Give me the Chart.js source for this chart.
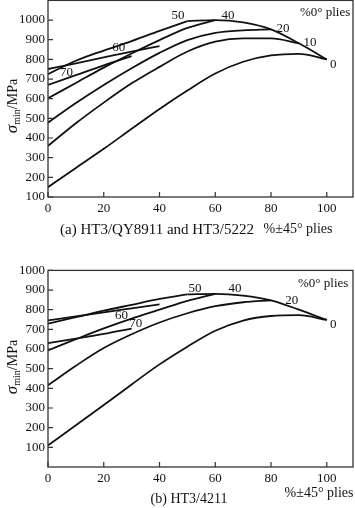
<!DOCTYPE html>
<html>
<head>
<meta charset="utf-8">
<script src="https://cdn.jsdelivr.net/npm/chart.js@4.4.0/dist/chart.umd.min.js"></script>
<style>
  html, body { margin: 0; padding: 0; background: #fff; }
  #wrapA { position: absolute; left: 0; top: 0; width: 355px; height: 245px; }
  #wrapB { position: absolute; left: 0; top: 250px; width: 355px; height: 258px; }
</style>
</head>
<body>
<div id="wrapA"><canvas id="chartA" width="355" height="245"></canvas></div>
<div id="wrapB"><canvas id="chartB" width="355" height="258"></canvas></div>
<script>
// ---- shared axis values ----
const xStep = [0, 10, 20, 30, 40, 50, 60, 70, 80, 90, 100];
const xTicks = [0, 20, 40, 60, 80, 100];
const yTicks = [100, 200, 300, 400, 500, 600, 700, 800, 900, 1000];

// ---- (a) HT3/QY8911 and HT3/5222 : sigma_min vs % ±45 plies, per % 0° plies ----
const a0  = [150, 248, 345, 447, 548, 642, 728, 788, 820, 828, 800];
const a10 = [360, 475, 580, 678, 762, 840, 890, 907, 907, 882];
const a20 = [478, 578, 670, 755, 833, 898, 935, 948, 953];
const a40 = [602, 680, 758, 830, 898, 960, 1000];
const a50 = [725, 793, 845, 893, 945, 995];
const a60 = [751, 780, 810, 840, 868];
const a70 = [670, 720, 770, 817];
const aEdgeX = [50, 60, 70, 80, 90, 100];
const aEdge  = [995, 1000, 988, 953, 882, 800];
const aLabels = ['50', '40', '20', '10', '0', '60', '70'];
const aLabelX = [46.6, 64.6, 84.3, 94, 102.3, 25.4, 6.6];
const aLabelY = [1025, 1025, 959, 888, 776, 858, 732];

// ---- (b) HT3/4211 ----
const b0  = [110, 212, 315, 420, 522, 612, 693, 745, 768, 772, 748];
const b20 = [416, 515, 605, 675, 735, 782, 818, 838, 848];
const b40 = [593, 650, 705, 755, 800, 845, 881];
const b50 = [729, 762, 795, 825, 855, 878];
const b60 = [746, 766, 787, 807, 827];
const b70 = [630, 653, 677, 704];
const bEdgeX = [50, 60, 70, 80, 90, 100];
const bEdge  = [878, 881, 872, 848, 800, 748];
const bLabels = ['50', '40', '20', '0', '60', '70'];
const bLabelX = [52.7, 67.1, 87.4, 102.3, 26.4, 31.5];
const bLabelY = [909, 909, 848, 726, 772, 729];

const SERIF = '"Liberation Serif", "DejaVu Serif", serif';
const INK = '#111';

function pts(xs, ys) { return ys.map((y, i) => ({ x: xs[i], y: y })); }
function curve(ys, xs) {
  return {
    data: pts(xs || xStep, ys),
    showLine: true, pointRadius: 0, borderColor: INK, borderWidth: 1.8,
    cubicInterpolationMode: 'monotone', fill: false
  };
}

const decoPlugin = {
  id: 'deco',
  afterDraw(chart, args, o) {
    const ctx = chart.ctx, ca = chart.chartArea;
    const xs = chart.scales.x, ys = chart.scales.y;
    ctx.save();
    // frame
    ctx.strokeStyle = '#333';
    ctx.lineWidth = 1.3;
    ctx.strokeRect(ca.left, ca.top, ca.right - ca.left, ca.bottom - ca.top);
    // inward tick marks
    ctx.lineWidth = 1.2;
    ctx.beginPath();
    xs.ticks.forEach(t => {
      const p = xs.getPixelForValue(t.value);
      ctx.moveTo(p, ca.bottom); ctx.lineTo(p, ca.bottom - 5);
    });
    ys.ticks.forEach(t => {
      const p = ys.getPixelForValue(t.value);
      ctx.moveTo(ca.left, p); ctx.lineTo(ca.left + 5, p);
    });
    ctx.stroke();
    // curve labels
    ctx.fillStyle = INK;
    ctx.font = '13px ' + SERIF;
    ctx.textAlign = 'center';
    ctx.textBaseline = 'middle';
    o.labels.forEach((t, i) => {
      ctx.fillText(t, xs.getPixelForValue(o.lx[i]), ys.getPixelForValue(o.ly[i]));
    });
    // "%0° plies"
    ctx.fillText('%0° plies', xs.getPixelForValue(o.pliesX), ys.getPixelForValue(o.pliesY));
    // y-axis title: σmin/MPa
    const segs = [
      { t: 'σ', f: 'italic 17px ' + SERIF, dy: 0 },
      { t: 'min', f: '10px ' + SERIF, dy: 3 },
      { t: '/MPa', f: '14px ' + SERIF, dy: 0 }
    ];
    let total = 0;
    segs.forEach(s => { ctx.font = s.f; s.w = ctx.measureText(s.t).width; total += s.w; });
    ctx.translate(o.yTitleX, o.yTitleY);
    ctx.rotate(-Math.PI / 2);
    ctx.textAlign = 'left';
    ctx.textBaseline = 'alphabetic';
    let cx = -total / 2;
    segs.forEach(s => { ctx.font = s.f; ctx.fillText(s.t, cx, s.dy); cx += s.w; });
    ctx.setTransform(1, 0, 0, 1, 0, 0);
    // captions
    ctx.textBaseline = 'middle';
    o.captions.forEach(c => {
      ctx.font = c.font;
      ctx.textAlign = c.align;
      ctx.fillText(c.text, c.x, c.y);
    });
    ctx.restore();
  }
};

function makeChart(id, datasets, yMin, yMax, pad, xAxisH, deco) {
  return new Chart(document.getElementById(id), {
    type: 'scatter',
    data: { datasets: datasets },
    plugins: [decoPlugin],
    options: {
      responsive: false,
      animation: false,
      devicePixelRatio: 1,
      layout: { padding: pad },
      plugins: { legend: { display: false }, tooltip: { enabled: false }, deco: deco },
      scales: {
        x: {
          type: 'linear', min: 0, max: 109.4,
          afterBuildTicks: s => { s.ticks = xTicks.map(v => ({ value: v })); },
          afterFit: s => { s.height = xAxisH; s.paddingLeft = 0; s.paddingRight = 0; },
          grid: { display: false, drawTicks: false },
          border: { display: false },
          ticks: { padding: 4, color: INK, font: { family: SERIF, size: 13 }, maxRotation: 0,
                   callback: v => String(v) }
        },
        y: {
          type: 'linear', min: yMin, max: yMax,
          afterBuildTicks: s => { s.ticks = yTicks.map(v => ({ value: v })); },
          afterFit: s => { s.width = 48; s.paddingTop = 0; s.paddingBottom = 0; },
          grid: { display: false, drawTicks: false },
          border: { display: false },
          ticks: { padding: 3, color: INK, font: { family: SERIF, size: 13 },
                   callback: v => String(v) }
        }
      }
    }
  });
}

makeChart('chartA', [
  curve(a0), curve(a10), curve(a20), curve(a40), curve(a50), curve(a60), curve(a70),
  curve(aEdge, aEdgeX)
], 100, 1100, { left: 0, right: 2, top: 0.4, bottom: 0 }, 48, {
  labels: aLabels, lx: aLabelX, ly: aLabelY,
  pliesX: 99.4, pliesY: 1036,
  yTitleX: 17, yTitleY: 106,
  captions: [
    { text: '(a) HT3/QY8911 and HT3/5222', x: 157, y: 230, font: '15px ' + SERIF, align: 'center' },
    { text: '%±45° plies', x: 298, y: 229, font: '14px ' + SERIF, align: 'center' }
  ]
});

makeChart('chartB', [
  curve(b0), curve(b20), curve(b40), curve(b50), curve(b60), curve(b70),
  curve(bEdge, bEdgeX)
], 0, 1000, { left: 0, right: 2, top: 20.4, bottom: 0 }, 41, {
  labels: bLabels, lx: bLabelX, ly: bLabelY,
  pliesX: 98.7, pliesY: 934,
  yTitleX: 17, yTitleY: 117,
  captions: [
    { text: '(b) HT3/4211', x: 189, y: 249, font: '14px ' + SERIF, align: 'center' },
    { text: '%±45° plies', x: 319, y: 243, font: '14px ' + SERIF, align: 'center' }
  ]
});
</script>
</body>
</html>
